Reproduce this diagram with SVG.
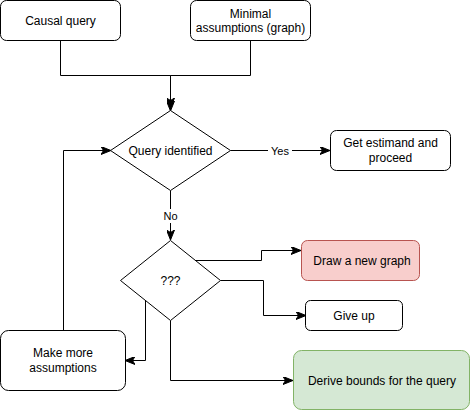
<svg xmlns="http://www.w3.org/2000/svg" width="471" height="411" viewBox="0 0 471 411">
<defs>
<marker id="arr" viewBox="0 0 10 8" refX="9" refY="4" markerWidth="10" markerHeight="8" markerUnits="userSpaceOnUse" orient="auto">
<path d="M0,0 L10,4 L0,8 L2.5,4 z" fill="#000" stroke="#000" stroke-width="1"/>
</marker>
</defs>
<style>
text{font-family:"Liberation Sans",Arial,sans-serif;font-size:12px;fill:#000;text-anchor:middle}
.lbl{font-size:11px}
.box{fill:#fff;stroke:#000;stroke-width:1}
.e{fill:none;stroke:#000;stroke-width:1;marker-end:url(#arr)}
</style>
<rect width="471" height="411" fill="#fff"/>
<g id="connectors">
<path class="e" d="M60.5,40.5 V75.5 H170.5 V107"/>
<path class="e" d="M250.5,40.5 V75.5 H170.5 V110"/>
<path class="e" d="M230.5,150.5 H329"/>
<rect x="268" y="143" width="24" height="14" fill="#fff"/>
<text class="lbl" x="280" y="155">Yes</text>
<path class="e" d="M170.5,190.5 V239"/>
<rect x="162" y="209" width="17" height="14" fill="#fff"/>
<text class="lbl" x="170.5" y="220">No</text>
<path class="e" d="M196,260.5 H261.5 V250.5 H300"/>
<path class="e" d="M220.5,280.5 H263.5 V315.5 H305"/>
<path class="e" d="M145.5,300.5 V360.5 H126"/>
<path class="e" d="M170.5,320.5 V380.5 H292"/>
<path class="e" d="M63.5,330.5 V150.5 H110"/>
</g>
<g id="causal-query">
<rect class="box" x="0.5" y="0.5" width="120" height="40" rx="6"/>
<text x="60.5" y="25">Causal query</text>
</g>
<g id="minimal-assumptions">
<rect class="box" x="190.5" y="0.5" width="120" height="40" rx="6"/>
<text x="250.5" y="18">Minimal</text>
<text x="250.5" y="32">assumptions (graph)</text>
</g>
<g id="query-identified">
<path class="box" d="M170.5,110.5 L230.5,150.5 L170.5,190.5 L110.5,150.5 Z"/>
<text x="170.5" y="154.5">Query identified</text>
</g>
<g id="get-estimand">
<rect class="box" x="330.5" y="130.5" width="120" height="40" rx="6"/>
<text x="390.5" y="147">Get estimand and</text>
<text x="390.5" y="162">proceed</text>
</g>
<g id="unknown">
<path class="box" d="M170.5,240.5 L220.5,280.5 L170.5,320.5 L120.5,280.5 Z"/>
<text x="170.5" y="284.5">???</text>
</g>
<g id="draw-new-graph">
<rect x="301.5" y="240.5" width="118" height="40" rx="6" fill="#f8cecc" stroke="#b85450"/>
<text x="362" y="265">Draw a new graph</text>
</g>
<g id="give-up">
<rect class="box" x="305.5" y="300.5" width="97" height="30" rx="5"/>
<text x="354" y="320">Give up</text>
</g>
<g id="make-more-assumptions">
<rect class="box" x="0.5" y="330.5" width="125" height="60" rx="8"/>
<text x="63" y="357">Make more</text>
<text x="63" y="372">assumptions</text>
</g>
<g id="derive-bounds">
<rect x="293.5" y="350.5" width="176" height="59" rx="8" fill="#d5e8d4" stroke="#82b366"/>
<text x="382" y="385">Derive bounds for the query</text>
</g>
</svg>
